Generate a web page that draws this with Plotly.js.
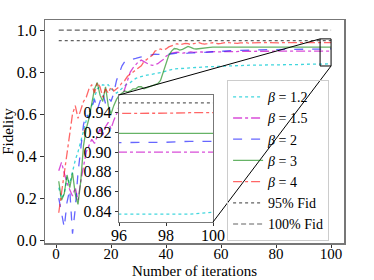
<!DOCTYPE html>
<html>
<head>
<meta charset="utf-8">
<script src="https://cdn.plot.ly/plotly-3.0.1.min.js"></script>
<style>html,body{margin:0;padding:0;background:#fff;}#chart{width:374px;height:280px;}</style>
</head>
<body>
<div id="chart"></div>
<script>
// ---- data ----
var iterations = [];
for (var i = 1; i <= 100; i++) iterations.push(i);

var beta12 = [0.25,0.20,0.22,0.30,0.27,0.33,0.38,0.42,0.47,0.52,
  0.57,0.60,0.64,0.68,0.72,0.73,0.74,0.735,0.74,0.72,
  0.71,0.70,0.71,0.725,0.735,0.745,0.75,0.76,0.77,0.775,
  0.78,0.782,0.785,0.787,0.79,0.792,0.793,0.795,0.80,0.805,
  0.81,0.812,0.815,0.816,0.817,0.818,0.82,0.82,0.821,0.822,
  0.823,0.823,0.824,0.825,0.825,0.826,0.826,0.827,0.827,0.828,
  0.828,0.829,0.829,0.830,0.830,0.831,0.831,0.831,0.832,0.832,
  0.833,0.833,0.833,0.834,0.834,0.834,0.834,0.835,0.835,0.835,
  0.835,0.835,0.836,0.836,0.836,0.836,0.836,0.836,0.836,0.837,
  0.837,0.837,0.837,0.837,0.837,0.837,0.837,0.837,0.837,0.839];

var beta15 = [0.33,0.37,0.32,0.27,0.24,0.21,0.25,0.19,0.28,0.36,
  0.42,0.45,0.48,0.46,0.50,0.53,0.50,0.54,0.56,0.53,
  0.57,0.60,0.64,0.68,0.72,0.77,0.80,0.82,0.835,0.85,
  0.857,0.85,0.84,0.835,0.832,0.835,0.84,0.85,0.86,0.875,
  0.885,0.89,0.892,0.895,0.893,0.89,0.892,0.895,0.896,0.894,
  0.895,0.897,0.896,0.895,0.896,0.897,0.898,0.897,0.896,0.897,
  0.898,0.899,0.898,0.897,0.898,0.899,0.899,0.898,0.899,0.900,
  0.899,0.899,0.900,0.900,0.899,0.900,0.900,0.900,0.899,0.900,
  0.900,0.900,0.900,0.900,0.900,0.900,0.900,0.900,0.900,0.900,
  0.900,0.900,0.900,0.900,0.900,0.900,0.900,0.9005,0.9002,0.900];

var beta2 = [0.20,0.12,0.06,0.18,0.24,0.03,0.15,0.32,0.45,0.55,
  0.60,0.58,0.63,0.67,0.62,0.66,0.70,0.65,0.68,0.66,
  0.70,0.76,0.80,0.83,0.85,0.855,0.86,0.862,0.865,0.87,
  0.872,0.875,0.878,0.88,0.882,0.885,0.884,0.886,0.888,0.887,
  0.885,0.887,0.889,0.89,0.888,0.887,0.889,0.89,0.892,0.891,
  0.892,0.893,0.894,0.895,0.895,0.896,0.897,0.898,0.898,0.899,
  0.900,0.900,0.901,0.902,0.902,0.903,0.903,0.904,0.904,0.905,
  0.905,0.905,0.906,0.906,0.906,0.907,0.907,0.907,0.907,0.908,
  0.908,0.908,0.908,0.908,0.909,0.909,0.909,0.909,0.909,0.909,
  0.909,0.909,0.909,0.909,0.9095,0.9095,0.9095,0.910,0.911,0.911];

var beta3 = [0.28,0.19,0.22,0.31,0.25,0.32,0.22,0.17,0.28,0.45,
  0.53,0.58,0.65,0.72,0.75,0.69,0.66,0.73,0.64,0.60,
  0.64,0.67,0.69,0.70,0.71,0.705,0.71,0.72,0.72,0.73,
  0.73,0.72,0.725,0.73,0.735,0.74,0.745,0.76,0.80,0.85,
  0.88,0.90,0.912,0.91,0.905,0.908,0.915,0.922,0.918,0.912,
  0.91,0.912,0.915,0.917,0.918,0.918,0.919,0.919,0.92,0.92,
  0.919,0.919,0.919,0.919,0.919,0.919,0.919,0.919,0.919,0.919,
  0.919,0.919,0.919,0.919,0.919,0.919,0.919,0.919,0.919,0.919,
  0.919,0.919,0.919,0.919,0.919,0.919,0.919,0.919,0.919,0.919,
  0.919,0.919,0.919,0.919,0.919,0.919,0.919,0.919,0.919,0.919];

var beta4 = [0.13,0.22,0.32,0.42,0.50,0.60,0.64,0.58,0.62,0.66,
  0.68,0.72,0.74,0.70,0.75,0.73,0.68,0.72,0.70,0.73,
  0.71,0.72,0.73,0.75,0.76,0.78,0.79,0.80,0.81,0.82,
  0.83,0.85,0.86,0.87,0.88,0.90,0.905,0.91,0.905,0.91,
  0.92,0.925,0.93,0.935,0.93,0.935,0.937,0.935,0.93,0.935,
  0.938,0.94,0.936,0.933,0.935,0.938,0.94,0.937,0.935,0.937,
  0.94,0.942,0.94,0.938,0.936,0.937,0.939,0.941,0.94,0.938,
  0.939,0.940,0.940,0.939,0.940,0.941,0.940,0.939,0.940,0.940,
  0.939,0.940,0.940,0.940,0.939,0.940,0.940,0.939,0.939,0.939,
  0.939,0.939,0.939,0.939,0.939,0.939,0.939,0.9395,0.940,0.940];

var refX = [1, 100];
var fid95 = [0.95, 0.95];
var fid100 = [1.0, 1.0];

var seriesNames = ['<i>β</i> = 1.2', '<i>β</i> = 1.5', '<i>β</i> = 2', '<i>β</i> = 3', '<i>β</i> = 4', '95% Fid', '100% Fid'];
var xTicks = [0, 20, 40, 60, 80, 100];
var yTicks = [0.0, 0.2, 0.4, 0.6, 0.8, 1.0];
var insetXTicks = [96, 98, 100];
var insetYTicks = [0.84, 0.86, 0.88, 0.90, 0.92, 0.94];
var xTitle = 'Number of iterations';
var yTitle = 'Fidelity';

// ---- styling ----
var styles = [
  {color: 'rgba(0,200,210,0.75)', dash: 'dot', width: 1.3},
  {color: 'rgba(200,0,200,0.7)', dash: 'dashdot', width: 1.3},
  {color: 'rgba(0,0,255,0.6)', dash: 'dash', width: 1.3},
  {color: 'rgba(0,128,0,0.6)', dash: 'solid', width: 1.3},
  {color: 'rgba(255,0,0,0.6)', dash: 'dashdot', width: 1.3},
  {color: 'rgba(80,80,80,0.9)', dash: 'dot', width: 1.2},
  {color: 'rgba(80,80,80,0.9)', dash: '5px,3px', width: 1.2}
];
var ys = [beta12, beta15, beta2, beta3, beta4];

var xr = [-4, 104.7], yr = [-0.014, 1.048];
var ixr = [96, 100], iyr = [0.829, 0.958];
var idx = [0.2475, 0.5619], idy = [0.094, 0.6637];

var traces = [];
for (var k = 0; k < 5; k++) {
  traces.push({x: iterations, y: ys[k], type: 'scatter', mode: 'lines', name: seriesNames[k],
    line: styles[k], xaxis: 'x', yaxis: 'y', showlegend: true});
}
traces.push({x: refX, y: fid95, type: 'scatter', mode: 'lines', name: seriesNames[5], line: styles[5], xaxis: 'x', yaxis: 'y'});
traces.push({x: refX, y: fid100, type: 'scatter', mode: 'lines', name: seriesNames[6], line: styles[6], xaxis: 'x', yaxis: 'y'});
// inset background (covers the inset's own axis range)
traces.push({x: [ixr[0], ixr[1], ixr[1], ixr[0], ixr[0]], y: [iyr[0], iyr[0], iyr[1], iyr[1], iyr[0]],
  type: 'scatter', mode: 'lines', fill: 'toself', fillcolor: '#ffffff', line: {width: 0, color: '#ffffff'},
  xaxis: 'x2', yaxis: 'y2', showlegend: false, hoverinfo: 'skip'});
for (var k = 0; k < 5; k++) {
  traces.push({x: iterations, y: ys[k], type: 'scatter', mode: 'lines', name: seriesNames[k],
    line: styles[k], xaxis: 'x2', yaxis: 'y2', showlegend: false});
}
traces.push({x: refX, y: fid95, type: 'scatter', mode: 'lines', name: seriesNames[5], line: styles[5], xaxis: 'x2', yaxis: 'y2', showlegend: false});

function toMainX(f) { return xr[0] + f * (xr[1] - xr[0]); }
function toMainY(f) { return yr[0] + f * (yr[1] - yr[0]); }

var fam = '"Liberation Serif", "Times New Roman", Times, serif';
var tickF = {family: fam, size: 16, color: '#000'};
var frameColor = '#777';
var plotH = 280 - 20 - 37;

var layout = {
  width: 374, height: 280,
  margin: {l: 45, r: 30, t: 20, b: 37},
  paper_bgcolor: '#fff', plot_bgcolor: '#fff',
  font: {family: fam, size: 15, color: '#000'},
  showlegend: true,
  xaxis: {domain: [0, 1], range: xr, tickvals: xTicks, ticks: 'outside', ticklen: 3.5, tickcolor: '#333',
    showline: true, linecolor: frameColor, linewidth: 1.5, mirror: true, showgrid: false, zeroline: false,
    tickfont: {family: fam, size: 15, color: '#000'}, ticklabelstandoff: -7, automargin: false},
  yaxis: {domain: [0, 1], range: yr, tickvals: yTicks, tickformat: '.1f', ticks: 'outside', ticklen: 3.5, tickcolor: '#333',
    showline: true, linecolor: frameColor, linewidth: 1.5, mirror: true, showgrid: false, zeroline: false,
    tickfont: tickF, automargin: false,
    title: {text: yTitle, font: {family: fam, size: 15, color: '#000'}, standoff: 4}},
  xaxis2: {domain: idx, range: ixr, anchor: 'y2', tickvals: insetXTicks, ticks: 'outside', ticklen: 3, tickcolor: '#333',
    showline: true, linecolor: frameColor, linewidth: 1.2, mirror: true, showgrid: false, zeroline: false,
    tickfont: tickF, ticklabelstandoff: -4},
  yaxis2: {domain: idy, range: iyr, anchor: 'x2', tickvals: insetYTicks, tickformat: '.2f', ticks: 'outside', ticklen: 3, tickcolor: '#333',
    showline: true, linecolor: frameColor, linewidth: 1.2, mirror: true, showgrid: false, zeroline: false,
    tickfont: tickF},
  legend: {x: 0.609, y: 0.73, xanchor: 'left', yanchor: 'top', bgcolor: 'rgba(255,255,255,0)',
    bordercolor: '#ccc', borderwidth: 1, font: {family: fam, size: 14, color: '#000'}, itemwidth: 30},
  annotations: [
    {text: xTitle, xref: 'paper', yref: 'paper', x: 0.5, y: -36.5 / plotH, xanchor: 'center', yanchor: 'bottom',
      borderpad: 0, showarrow: false, font: {family: fam, size: 15, color: '#000'}}
  ],
  shapes: [
    {type: 'rect', xref: 'x', yref: 'y', x0: ixr[0], x1: ixr[1], y0: iyr[0], y1: iyr[1],
      line: {color: '#000', width: 1}, layer: 'above'},
    {type: 'line', xref: 'x', yref: 'y', x0: toMainX(idx[0]), y0: toMainY(idy[1]), x1: ixr[0], y1: iyr[1],
      line: {color: '#000', width: 1}, layer: 'above'},
    {type: 'line', xref: 'x', yref: 'y', x0: toMainX(idx[1]), y0: toMainY(idy[0]), x1: ixr[1], y1: iyr[0],
      line: {color: '#000', width: 1}, layer: 'above'}
  ]
};

Plotly.newPlot('chart', traces, layout, {staticPlot: true, displayModeBar: false});
</script>
</body>
</html>
